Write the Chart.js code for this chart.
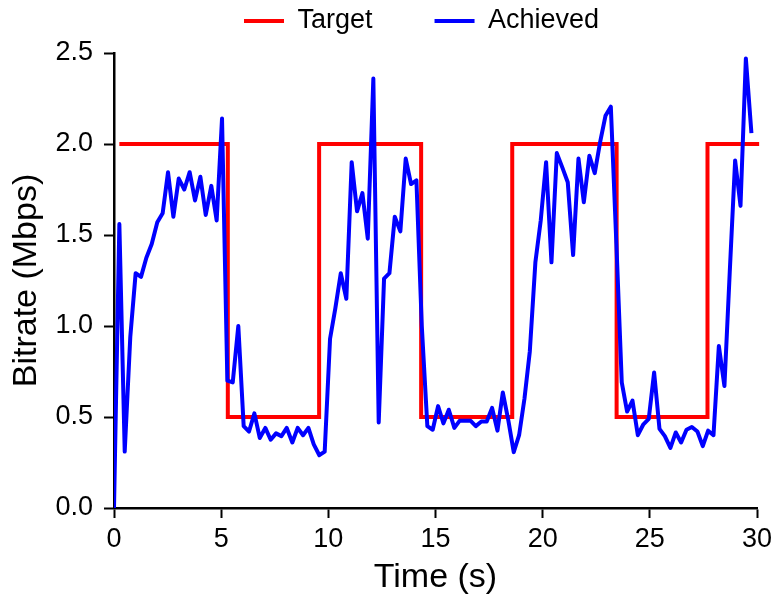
<!DOCTYPE html>
<html lang="en">
<head>
    <meta charset="UTF-8">
    <title>Target vs achieved bitrate</title>
    <script src="https://cdn.jsdelivr.net/npm/chart.js"></script>
    <style>
        body {
            margin: 0;
            background-color: white;
        }
        #bitrateChart {
            display: block;
        }
    </style>
</head>
<body>
    <canvas id="bitrateChart" width="774" height="598"></canvas>

    <script>
        // Achieved bitrate samples (s, Mbps)
        const achievedTimes = [
            0, 0.25, 0.50, 0.76, 1.01, 1.26, 1.51, 1.76, 2.02, 2.27,
            2.52, 2.77, 3.02, 3.28, 3.53, 3.78, 4.03, 4.28, 4.54, 4.79,
            5.04, 5.29, 5.54, 5.80, 6.05, 6.30, 6.55, 6.80, 7.06, 7.31,
            7.56, 7.81, 8.06, 8.32, 8.57, 8.82, 9.07, 9.32, 9.58, 9.83,
            10.08, 10.33, 10.58, 10.84, 11.09, 11.34, 11.59, 11.84, 12.10, 12.35,
            12.60, 12.85, 13.10, 13.36, 13.61, 13.86, 14.11, 14.36, 14.62, 14.87,
            15.12, 15.37, 15.62, 15.88, 16.13, 16.38, 16.63, 16.88, 17.14, 17.39,
            17.64, 17.89, 18.14, 18.40, 18.65, 18.90, 19.15, 19.40, 19.66, 19.91,
            20.16, 20.41, 20.66, 20.92, 21.17, 21.42, 21.67, 21.92, 22.18, 22.43,
            22.68, 22.93, 23.18, 23.44, 23.69, 23.94, 24.19, 24.44, 24.70, 24.95,
            25.20, 25.45, 25.70, 25.96, 26.21, 26.46, 26.71, 26.96, 27.22, 27.47,
            27.72, 27.97, 28.22, 28.48, 28.73, 28.98, 29.23, 29.48, 29.74
        ];
        const achievedRates = [
            0, 1.56, 0.31, 0.94, 1.29, 1.27, 1.375, 1.45, 1.57, 1.62,
            1.845, 1.60, 1.81, 1.75, 1.845, 1.69, 1.82, 1.61, 1.77, 1.58,
            2.14, 0.70, 0.69, 1.00, 0.45, 0.42, 0.52, 0.385, 0.44, 0.375,
            0.41, 0.395, 0.44, 0.36, 0.44, 0.40, 0.44, 0.35, 0.29, 0.31,
            0.93, 1.10, 1.29, 1.15, 1.90, 1.63, 1.73, 1.48, 2.36, 0.47,
            1.26, 1.29, 1.60, 1.52, 1.92, 1.78, 1.80, 1.00, 0.45, 0.43,
            0.56, 0.465, 0.54, 0.44, 0.48, 0.48, 0.48, 0.45, 0.475, 0.475,
            0.55, 0.425, 0.635, 0.48, 0.307, 0.40, 0.60, 0.86, 1.35, 1.58,
            1.90, 1.35, 1.95, 1.87, 1.79, 1.39, 1.92, 1.68, 1.935, 1.84,
            2.01, 2.155, 2.205, 1.45, 0.69, 0.53, 0.59, 0.40, 0.46, 0.49,
            0.745, 0.435, 0.395, 0.33, 0.415, 0.36, 0.43, 0.445, 0.42, 0.34,
            0.425, 0.40, 0.89, 0.67, 1.30, 1.91, 1.66, 2.47, 2.06
        ];

        // Target bitrate: each value holds until the next change time
        const targetTimes = [0.25, 5.31, 9.57, 14.33, 18.58, 23.45, 27.69, 30.1];
        const targetRates = [2.0, 0.5, 2.0, 0.5, 2.0, 0.5, 2.0, 2.0];

        const xTickLabels = ['0', '5', '10', '15', '20', '25', '30'];
        const yTickLabels = ['0.0', '0.5', '1.0', '1.5', '2.0', '2.5'];

        const FONT = "'Liberation Sans', Arial, Helvetica, sans-serif";

        // move the legend to where the original figure has it
        const legendPlace = {
            id: 'legendPlace',
            afterLayout(chart) {
                const lg = chart.legend;
                const pad = lg.options.labels.padding;
                const startX = (lg.left + pad + lg.right - lg.lineWidths[0]) / 2;
                const dx = 244 - startX;
                lg.left += dx;
                lg.right += dx;
                lg.top = 21 - 27 / 2 - pad;
            }
        };

        const ctx = document.getElementById('bitrateChart').getContext('2d');

        new Chart(ctx, {
            type: 'line',
            data: {
                datasets: [
                    {
                        label: 'Target',
                        data: targetTimes.map((t, i) => ({ x: t, y: targetRates[i] })),
                        borderColor: '#ff0000',
                        backgroundColor: '#ff0000',
                        borderWidth: 4,
                        stepped: true,
                        pointRadius: 0,
                        clip: false,
                        order: 2
                    },
                    {
                        label: 'Achieved',
                        data: achievedTimes.map((t, i) => ({ x: t, y: achievedRates[i] })),
                        borderColor: '#0000ff',
                        backgroundColor: '#0000ff',
                        borderWidth: 4,
                        borderJoinStyle: 'round',
                        pointRadius: 0,
                        tension: 0,
                        order: 1
                    }
                ]
            },
            options: {
                responsive: false,
                animation: false,
                layout: {
                    padding: { top: 0, right: 17, bottom: 0, left: 0 }
                },
                scales: {
                    x: {
                        type: 'linear',
                        min: 0,
                        max: 30,
                        afterFit: (scale) => {
                            scale.height = 90;
                            scale.paddingRight = 0;
                        },
                        ticks: {
                            stepSize: 5,
                            padding: 5,
                            color: 'black',
                            font: { family: FONT, size: 27 },
                            callback: (value, index) => xTickLabels[index]
                        },
                        grid: {
                            drawOnChartArea: false,
                            drawTicks: true,
                            tickLength: 10,
                            tickWidth: 2,
                            tickColor: 'black'
                        },
                        border: { color: 'black', width: 2.5 },
                        title: {
                            display: true,
                            text: 'Time (s)',
                            color: 'black',
                            font: { family: FONT, size: 34 },
                            padding: { top: 0, bottom: 0 }
                        }
                    },
                    y: {
                        min: 0,
                        max: 2.5,
                        afterFit: (scale) => { scale.width = 114; },
                        ticks: {
                            stepSize: 0.5,
                            padding: 11,
                            color: 'black',
                            font: { family: FONT, size: 27 },
                            callback: (value, index) => yTickLabels[index]
                        },
                        grid: {
                            drawOnChartArea: false,
                            drawTicks: true,
                            tickLength: 10,
                            tickWidth: 2,
                            tickColor: 'black'
                        },
                        border: { color: 'black', width: 2.5 },
                        title: {
                            display: true,
                            text: 'Bitrate (Mbps)',
                            color: 'black',
                            font: { family: FONT, size: 34 },
                            padding: { top: 6, bottom: 0 }
                        }
                    }
                },
                plugins: {
                    legend: {
                        position: 'top',
                        maxHeight: 53,
                        labels: {
                            boxWidth: 40,
                            boxHeight: 4,
                            padding: 62,
                            color: 'black',
                            font: { family: FONT, size: 27 },
                            generateLabels: (chart) => chart.data.datasets.map((ds, i) => ({
                                text: ds.label,
                                fillStyle: ds.borderColor,
                                strokeStyle: ds.borderColor,
                                lineWidth: 0,
                                hidden: false,
                                datasetIndex: i,
                                fontColor: 'black'
                            }))
                        }
                    },
                    tooltip: { enabled: false }
                }
            },
            plugins: [legendPlace]
        });
    </script>
</body>
</html>
